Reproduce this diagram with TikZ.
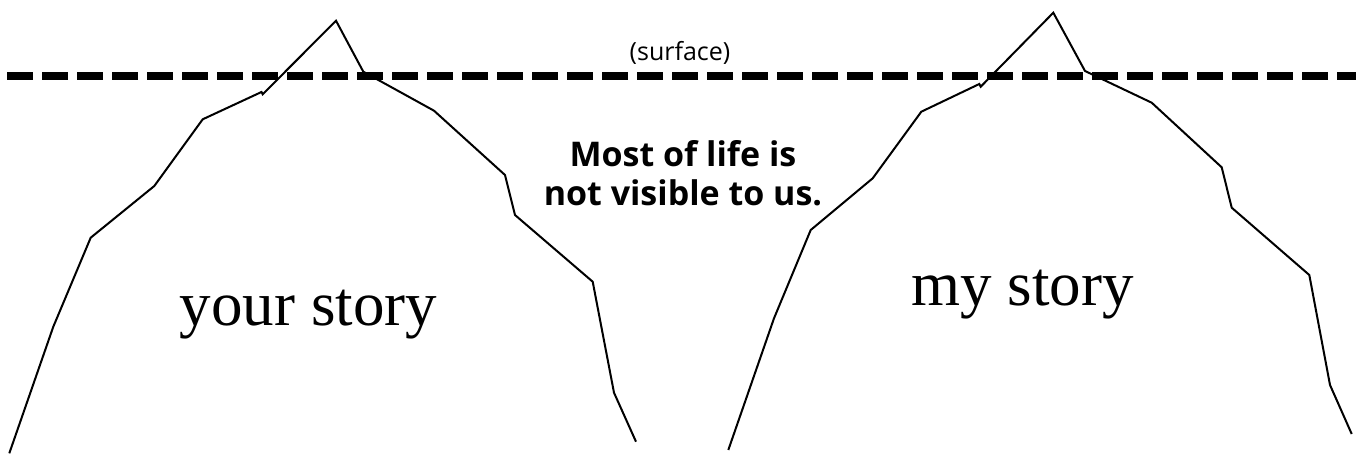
\documentclass[tikz,border=0pt]{standalone}
\usepackage{fontspec}
\setmainfont{Liberation Serif}
\newfontfamily\notefont{Open Sans}
\begin{document}
\begin{tikzpicture}[x=1pt, y=-1pt, berg/.style={line width=2pt, line join=miter}, water/.style={line width=8pt, dash pattern=on 26pt off 9pt}, story/.style={anchor=base, inner sep=0pt, font=\fontsize{63}{63}\selectfont}, note/.style={inner sep=0pt, font=\notefont\bfseries\fontsize{34}{39}\selectfont}]
		\useasboundingbox (0,0) rectangle (1356,455);
		% waterline
		\begin{scope}
			\clip (0,0) rectangle (1356,455);
			\draw[water] (7.3,76) -- (1380,76);
		\end{scope}
		% left iceberg
		\draw[berg] (9.3,453.3) -- (53.3,326.7) -- (90.7,237.7) -- (154.3,186) -- (202.7,119.3) -- (261.5,92) -- (262.7,94.3) -- (336,20.7) -- (363.3,71.7) -- (434,110.7) -- (505,175) -- (515,215) -- (592.7,281.7) -- (614,392.7) -- (636,441.7);
		% right iceberg
		\draw[berg] (728.3,450) -- (774,318.3) -- (810.7,230) -- (872.7,178.3) -- (921.3,111.7) -- (979.3,84) -- (980.7,86.7) -- (1053.3,12.7) -- (1085,71) -- (1151.7,102.7) -- (1221.7,167.3) -- (1231.7,207.7) -- (1309.3,275) -- (1330,385) -- (1351.7,434);
		\node[story] (yours) at (308.5,325) {your story};
		\node[story] (mine) at (1022.5,305) {my story};
		\node[anchor=base, inner sep=0pt, font=\notefont\fontsize{25}{25}\selectfont] (surface) at (680,60) {(surface)};
		\node[note, anchor=base] (note1) at (683,166) {Most of life is};
		\node[note, anchor=base] (note2) at (683,205) {not visible to us.};
	\end{tikzpicture}
\end{document}
